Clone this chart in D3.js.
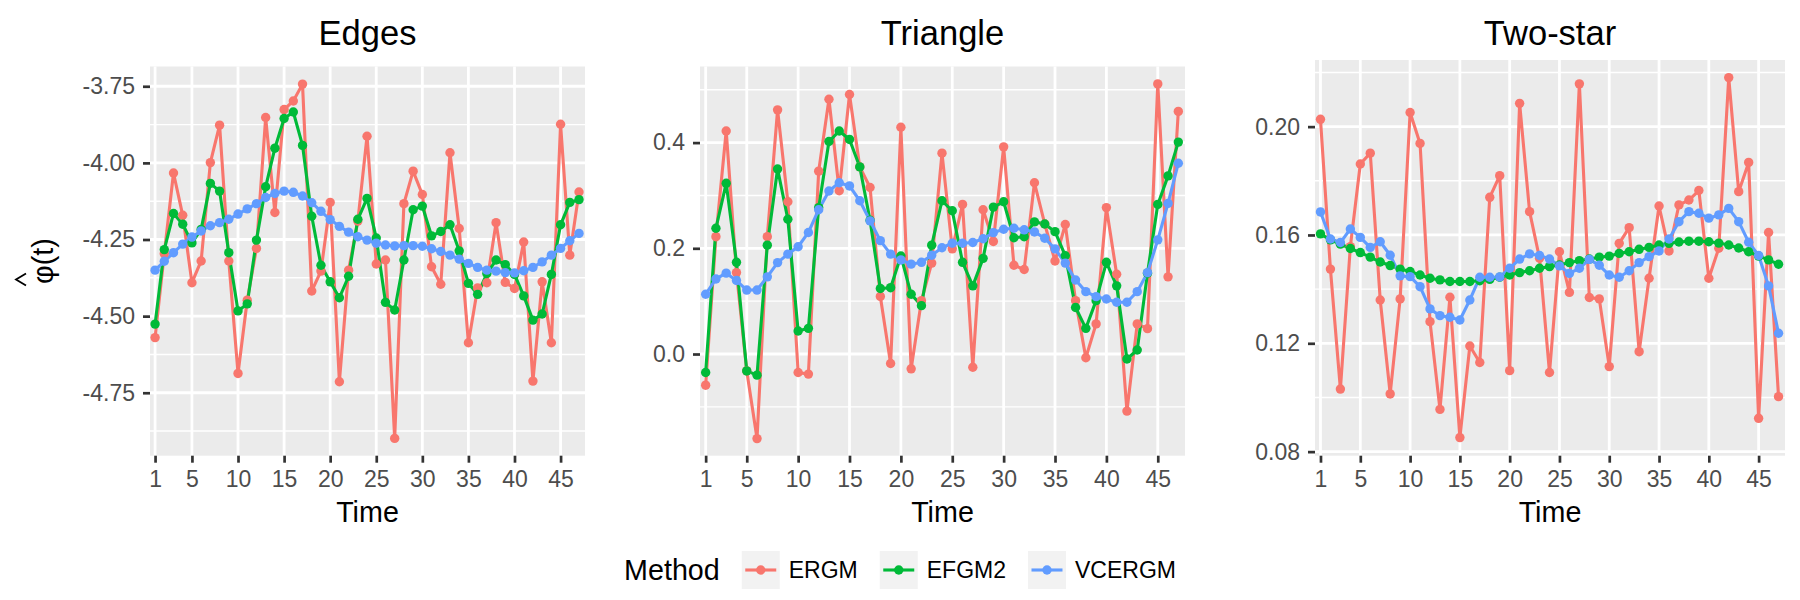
<!DOCTYPE html>
<html><head><meta charset="utf-8">
<script src="https://cdn.jsdelivr.net/npm/d3@7"></script>
<style>
body{margin:0;background:#fff}
svg{display:block}
text{font-family:"Liberation Sans",Arial,Helvetica,sans-serif}
</style>
</head><body>
<svg id="chart" width="1800" height="600"></svg>
<script>
// ---------------- data ----------------
const methods = ["ERGM","EFGM2","VCERGM"];
const colors  = ["#F8766D","#00BA38","#619CFF"];
const panelTitles = ["Edges","Triangle","Two-star"];
const time = [1,2,3,4,5,6,7,8,9,10,11,12,13,14,15,16,17,18,19,20,21,22,23,24,25,26,27,28,29,30,31,32,33,34,35,36,37,38,39,40,41,42,43,44,45,46,47];
const xTicks = [1,5,10,15,20,25,30,35,40,45];
const yTicksEdges = [-4.75,-4.50,-4.25,-4.00,-3.75];
const yTicksTriangle = [0.0,0.2,0.4];
const yTicksTwoStar = [0.08,0.12,0.16,0.20];

const edgesERGM = [-4.570,-4.296,-4.033,-4.171,-4.391,-4.320,-3.999,-3.877,-4.320,-4.687,-4.448,-4.279,-3.852,-4.162,-3.826,-3.798,-3.743,-4.418,-4.353,-4.129,-4.714,-4.350,-4.190,-3.913,-4.330,-4.317,-4.899,-4.133,-4.027,-4.103,-4.339,-4.396,-3.967,-4.214,-4.587,-4.408,-4.391,-4.195,-4.390,-4.410,-4.258,-4.712,-4.388,-4.587,-3.874,-4.301,-4.095];
const edgesEFGM2 = [-4.526,-4.283,-4.165,-4.200,-4.261,-4.217,-4.067,-4.092,-4.293,-4.483,-4.460,-4.252,-4.078,-3.952,-3.855,-3.834,-3.943,-4.174,-4.334,-4.388,-4.440,-4.370,-4.184,-4.116,-4.245,-4.455,-4.480,-4.317,-4.153,-4.141,-4.238,-4.224,-4.202,-4.287,-4.393,-4.429,-4.361,-4.317,-4.332,-4.364,-4.434,-4.513,-4.493,-4.364,-4.202,-4.129,-4.120];
const edgesVCERGM = [-4.350,-4.321,-4.293,-4.265,-4.242,-4.222,-4.205,-4.195,-4.184,-4.167,-4.150,-4.133,-4.113,-4.100,-4.092,-4.096,-4.108,-4.130,-4.158,-4.185,-4.207,-4.226,-4.241,-4.252,-4.262,-4.268,-4.271,-4.270,-4.270,-4.272,-4.280,-4.289,-4.301,-4.314,-4.328,-4.341,-4.350,-4.353,-4.358,-4.359,-4.352,-4.341,-4.323,-4.301,-4.279,-4.254,-4.230];

const triERGM = [-0.059,0.222,0.422,0.154,-0.032,-0.160,0.222,0.462,0.288,-0.035,-0.038,0.346,0.482,0.309,0.491,0.354,0.315,0.109,-0.018,0.429,-0.028,0.101,0.172,0.380,0.199,0.283,-0.025,0.273,0.213,0.392,0.168,0.160,0.324,0.246,0.176,0.245,0.101,-0.007,0.057,0.277,0.151,-0.108,0.057,0.048,0.511,0.146,0.459];
const triEFGM2 = [-0.035,0.238,0.323,0.1735,-0.032,-0.040,0.206,0.350,0.255,0.0435,0.0486,0.277,0.402,0.422,0.406,0.354,0.253,0.124,0.1255,0.1855,0.113,0.0915,0.206,0.290,0.271,0.1735,0.129,0.181,0.278,0.288,0.220,0.222,0.250,0.246,0.2315,0.186,0.088,0.0486,0.101,0.1735,0.129,-0.0095,0.0076,0.153,0.283,0.337,0.401];
const triVCERGM = [0.113,0.142,0.153,0.139,0.121,0.121,0.146,0.173,0.189,0.203,0.230,0.273,0.3085,0.324,0.318,0.290,0.252,0.2145,0.189,0.178,0.170,0.1735,0.187,0.201,0.2095,0.2095,0.211,0.218,0.2297,0.236,0.238,0.235,0.231,0.219,0.199,0.172,0.140,0.118,0.1085,0.104,0.098,0.098,0.118,0.154,0.216,0.285,0.361];

const starERGM = [0.2027,0.1474,0.1031,0.1557,0.1862,0.1902,0.1360,0.1013,0.1364,0.2052,0.1938,0.1280,0.0956,0.1370,0.0852,0.1190,0.1129,0.1739,0.1819,0.1099,0.2086,0.1686,0.1514,0.1092,0.1538,0.1388,0.2158,0.1369,0.1364,0.1114,0.1569,0.1627,0.1169,0.1440,0.1707,0.1541,0.1711,0.1729,0.1764,0.1440,0.1551,0.2181,0.1760,0.1868,0.0923,0.1609,0.1003];
const starEFGM2 = [0.1604,0.1582,0.1566,0.1550,0.1535,0.1518,0.1500,0.1487,0.1474,0.1465,0.1452,0.1440,0.1434,0.1428,0.1428,0.1428,0.1431,0.1436,0.1444,0.1452,0.1461,0.1468,0.1477,0.1483,0.1489,0.1498,0.1505,0.1511,0.1518,0.1522,0.1532,0.1538,0.1547,0.1554,0.1563,0.1569,0.1574,0.1577,0.1577,0.1575,0.1570,0.1563,0.1552,0.1538,0.1522,0.1508,0.1492];
const starVCERGM = [0.1685,0.1585,0.1572,0.1622,0.1591,0.1554,0.1575,0.1525,0.1449,0.1446,0.1409,0.1327,0.1302,0.1296,0.1286,0.1360,0.1444,0.1444,0.1445,0.1477,0.1511,0.1530,0.1524,0.1511,0.1486,0.1458,0.1477,0.1510,0.1488,0.1452,0.1444,0.1468,0.1498,0.1520,0.1541,0.1585,0.1649,0.1686,0.1680,0.1662,0.1674,0.1698,0.1649,0.1573,0.1524,0.1412,0.1237];

// ---------------- layout ----------------
const FONT = '"Liberation Sans",Arial,Helvetica,sans-serif';
const panels = [
  {title:panelTitles[0], series:[edgesERGM,edgesEFGM2,edgesVCERGM], ticks:yTicksEdges, dec:2,
   left:150, right:585, top:66.5, bottom:455.7, yDomain:[-4.9554,-3.6855]},
  {title:panelTitles[1], series:[triERGM,triEFGM2,triVCERGM], ticks:yTicksTriangle, dec:1,
   left:700, right:1185, top:66.5, bottom:455.7, yDomain:[-0.1924,0.5440]},
  {title:panelTitles[2], series:[starERGM,starEFGM2,starVCERGM], ticks:yTicksTwoStar, dec:2,
   left:1315, right:1785, top:60, bottom:455.7, yDomain:[0.0785,0.2246]}
];
const xDomain = [0.45, 47.65];

const svg = d3.select("#chart");
svg.append("rect").attr("width",1800).attr("height",600).attr("fill","#fff");

panels.forEach((p, pi) => {
  const x = d3.scaleLinear().domain(xDomain).range([p.left, p.right]);
  const y = d3.scaleLinear().domain(p.yDomain).range([p.bottom, p.top]);
  const g = svg.append("g");

  g.append("rect").attr("x",p.left).attr("y",p.top)
    .attr("width",p.right-p.left).attr("height",p.bottom-p.top).attr("fill","#EBEBEB");

  // minor y grid (midpoints)
  const step = p.ticks[1]-p.ticks[0];
  const minor = [];
  for (let i=-1;i<p.ticks.length;i++){
    const v = p.ticks[0] + (i+0.5)*step;
    if (v>p.yDomain[0] && v<p.yDomain[1]) minor.push(v);
  }
  g.selectAll(".minor").data(minor).join("line")
    .attr("x1",p.left).attr("x2",p.right).attr("y1",d=>y(d)).attr("y2",d=>y(d))
    .attr("stroke","#fff").attr("stroke-width",1.4);
  g.selectAll(".majy").data(p.ticks).join("line")
    .attr("x1",p.left).attr("x2",p.right).attr("y1",d=>y(d)).attr("y2",d=>y(d))
    .attr("stroke","#fff").attr("stroke-width",2.8);
  g.selectAll(".majx").data(xTicks).join("line")
    .attr("y1",p.top).attr("y2",p.bottom).attr("x1",d=>x(d)).attr("x2",d=>x(d))
    .attr("stroke","#fff").attr("stroke-width",2.8);

  const line = d3.line().x((d,i)=>x(time[i])).y(d=>y(d));
  p.series.forEach((s,si)=>{
    g.append("path").datum(s).attr("d",line).attr("fill","none")
      .attr("stroke",colors[si]).attr("stroke-width",3.1)
      .attr("stroke-linejoin","round").attr("stroke-linecap","butt");
  });
  p.series.forEach((s,si)=>{
    g.append("g").selectAll("circle").data(s).join("circle")
      .attr("cx",(d,i)=>x(time[i])).attr("cy",d=>y(d)).attr("r",4.7)
      .attr("fill",colors[si]);
  });

  // axes
  const yAxis = d3.axisLeft(y).tickValues(p.ticks).tickFormat(d=>d.toFixed(p.dec)).tickSize(7).tickPadding(8);
  const ya = g.append("g").attr("transform",`translate(${p.left},0)`).call(yAxis)
    .attr("font-size",23).attr("font-family",FONT);
  ya.select(".domain").remove();
  ya.selectAll(".tick line").attr("stroke","#333").attr("stroke-width",2.7);
  ya.selectAll(".tick text").attr("fill","#4D4D4D");

  const xAxis = d3.axisBottom(x).tickValues(xTicks).tickFormat(d=>String(d)).tickSize(7).tickPadding(8);
  const xa = g.append("g").attr("transform",`translate(0,${p.bottom})`).call(xAxis)
    .attr("font-size",23).attr("font-family",FONT);
  xa.select(".domain").remove();
  xa.selectAll(".tick line").attr("stroke","#333").attr("stroke-width",2.7);
  xa.selectAll(".tick text").attr("fill","#4D4D4D");

  const cx = (p.left+p.right)/2;
  g.append("text").attr("x",cx).attr("y",522).attr("text-anchor","middle")
    .attr("font-size",28.7).attr("fill","#000").text("Time");
  g.append("text").attr("x",cx).attr("y",45).attr("text-anchor","middle")
    .attr("font-size",34.5).attr("fill","#000").text(p.title);

  if (pi===0){
    const yc = (p.top+p.bottom)/2;
    const yt = svg.append("g").attr("transform",`translate(53,${yc}) rotate(-90)`);
    yt.append("text").attr("x",0).attr("y",0).attr("text-anchor","middle")
      .attr("font-size",28.7).attr("fill","#000").text("φ(t)");
    yt.append("path").attr("d","M-24.5,-27 L-18.5,-37 L-12.5,-27")
      .attr("fill","none").attr("stroke","#000").attr("stroke-width",1.8);
  }
});

// ---------------- legend ----------------
const lg = svg.append("g");
const ly = 570, keyW = 38;
const title = lg.append("text").attr("y",ly).attr("dy","0.35em")
  .attr("font-size",28.7).attr("fill","#000").text("Method");
const tw = title.node().getComputedTextLength();
let cur = tw + 22;
methods.forEach((m,i)=>{
  const kg = lg.append("g");
  kg.append("rect").attr("x",cur).attr("y",ly-keyW/2).attr("width",keyW).attr("height",keyW).attr("fill","#F2F2F2");
  kg.append("line").attr("x1",cur+3.5).attr("x2",cur+keyW-3.5).attr("y1",ly).attr("y2",ly)
    .attr("stroke",colors[i]).attr("stroke-width",3.1);
  kg.append("circle").attr("cx",cur+keyW/2).attr("cy",ly).attr("r",4.7).attr("fill",colors[i]);
  const t = kg.append("text").attr("x",cur+keyW+9).attr("y",ly).attr("dy","0.35em")
    .attr("font-size",23).attr("fill","#000").text(m);
  cur += keyW + 9 + t.node().getComputedTextLength() + (i<methods.length-1 ? 22 : 0);
});
lg.attr("transform",`translate(${900 - cur/2},0)`);
</script>
</body></html>
